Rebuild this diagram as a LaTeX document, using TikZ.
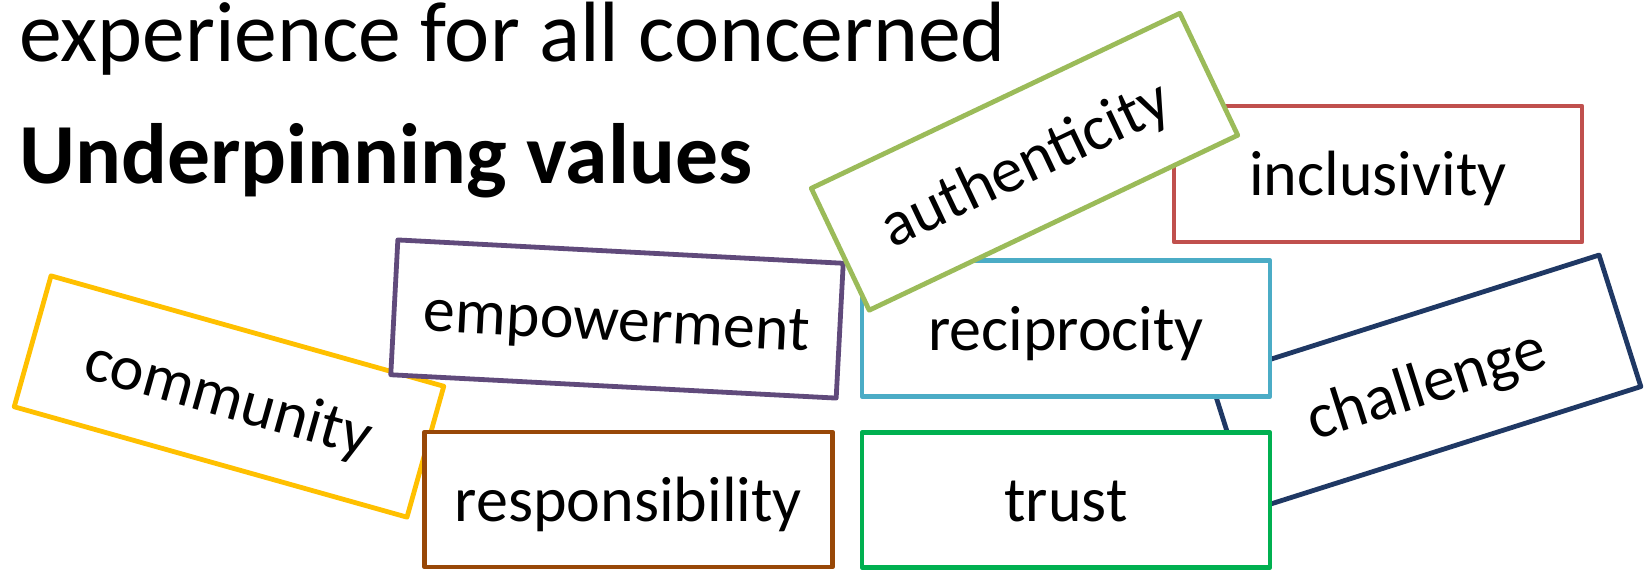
\documentclass[tikz,border=0pt]{standalone}
\usepackage{fontspec}
\setmainfont{Carlito}
\definecolor{cInclusivity}{HTML}{C0504D}
\definecolor{cChallenge}{HTML}{1F3864}
\definecolor{cCommunity}{HTML}{FFC000}
\definecolor{cEmpower}{HTML}{604A7B}
\definecolor{cRespons}{HTML}{984807}
\definecolor{cReciproc}{HTML}{4BACC6}
\definecolor{cTrust}{HTML}{00B050}
\definecolor{cAuthentic}{HTML}{9BBB59}
\begin{document}
\begin{tikzpicture}[x=0.5pt,y=-0.5pt,
  card/.style={draw, fill=white, line width=2.4pt, line join=round,
    minimum width=204pt, minimum height=68pt, inner sep=0pt,
    text height=30.4pt, text depth=8.6pt,
    font=\fontsize{32}{38}\selectfont},
  heading/.style={anchor=base west, inner sep=0pt,
    font=\fontsize{42.8}{50}\selectfont}]
  % page area
  \path[fill=white, use as bounding box] (0,0) rectangle (1652,570);

  % headings
  \node[heading] (line1) at (19,61) {experience for all concerned};
  \node[heading, font=\fontsize{42.8}{50}\selectfont\bfseries] (line2) at (19,183) {Underpinning values};

  % value cards, back to front
  \node[card, draw=cInclusivity] (inclusivity) at (1378,174) {inclusivity};
  \node[card, draw=cChallenge, rotate=17.6, minimum height=69pt] (challenge) at (1425.5,382.5) {challenge};
  \node[card, draw=cCommunity, rotate=-15.7] (community) at (229,396.5) {community};
  \node[card, draw=cEmpower, rotate=-3, minimum width=223pt, minimum height=67.5pt] (empowerment) at (617,319) {empowerment};
  \node[card, draw=cRespons, minimum height=67.5pt] (responsibility) at (628.5,499.5) {responsibility};
  \node[card, draw=cReciproc] (reciprocity) at (1066,328.5) {reciprocity};
  \node[card, draw=cTrust, minimum height=67.5pt] (trust) at (1066,500) {trust};
  \node[card, draw=cAuthentic, rotate=25.4, minimum height=67.5pt] (authenticity) at (1024.5,161.75) {authenticity};
\end{tikzpicture}
\end{document}
